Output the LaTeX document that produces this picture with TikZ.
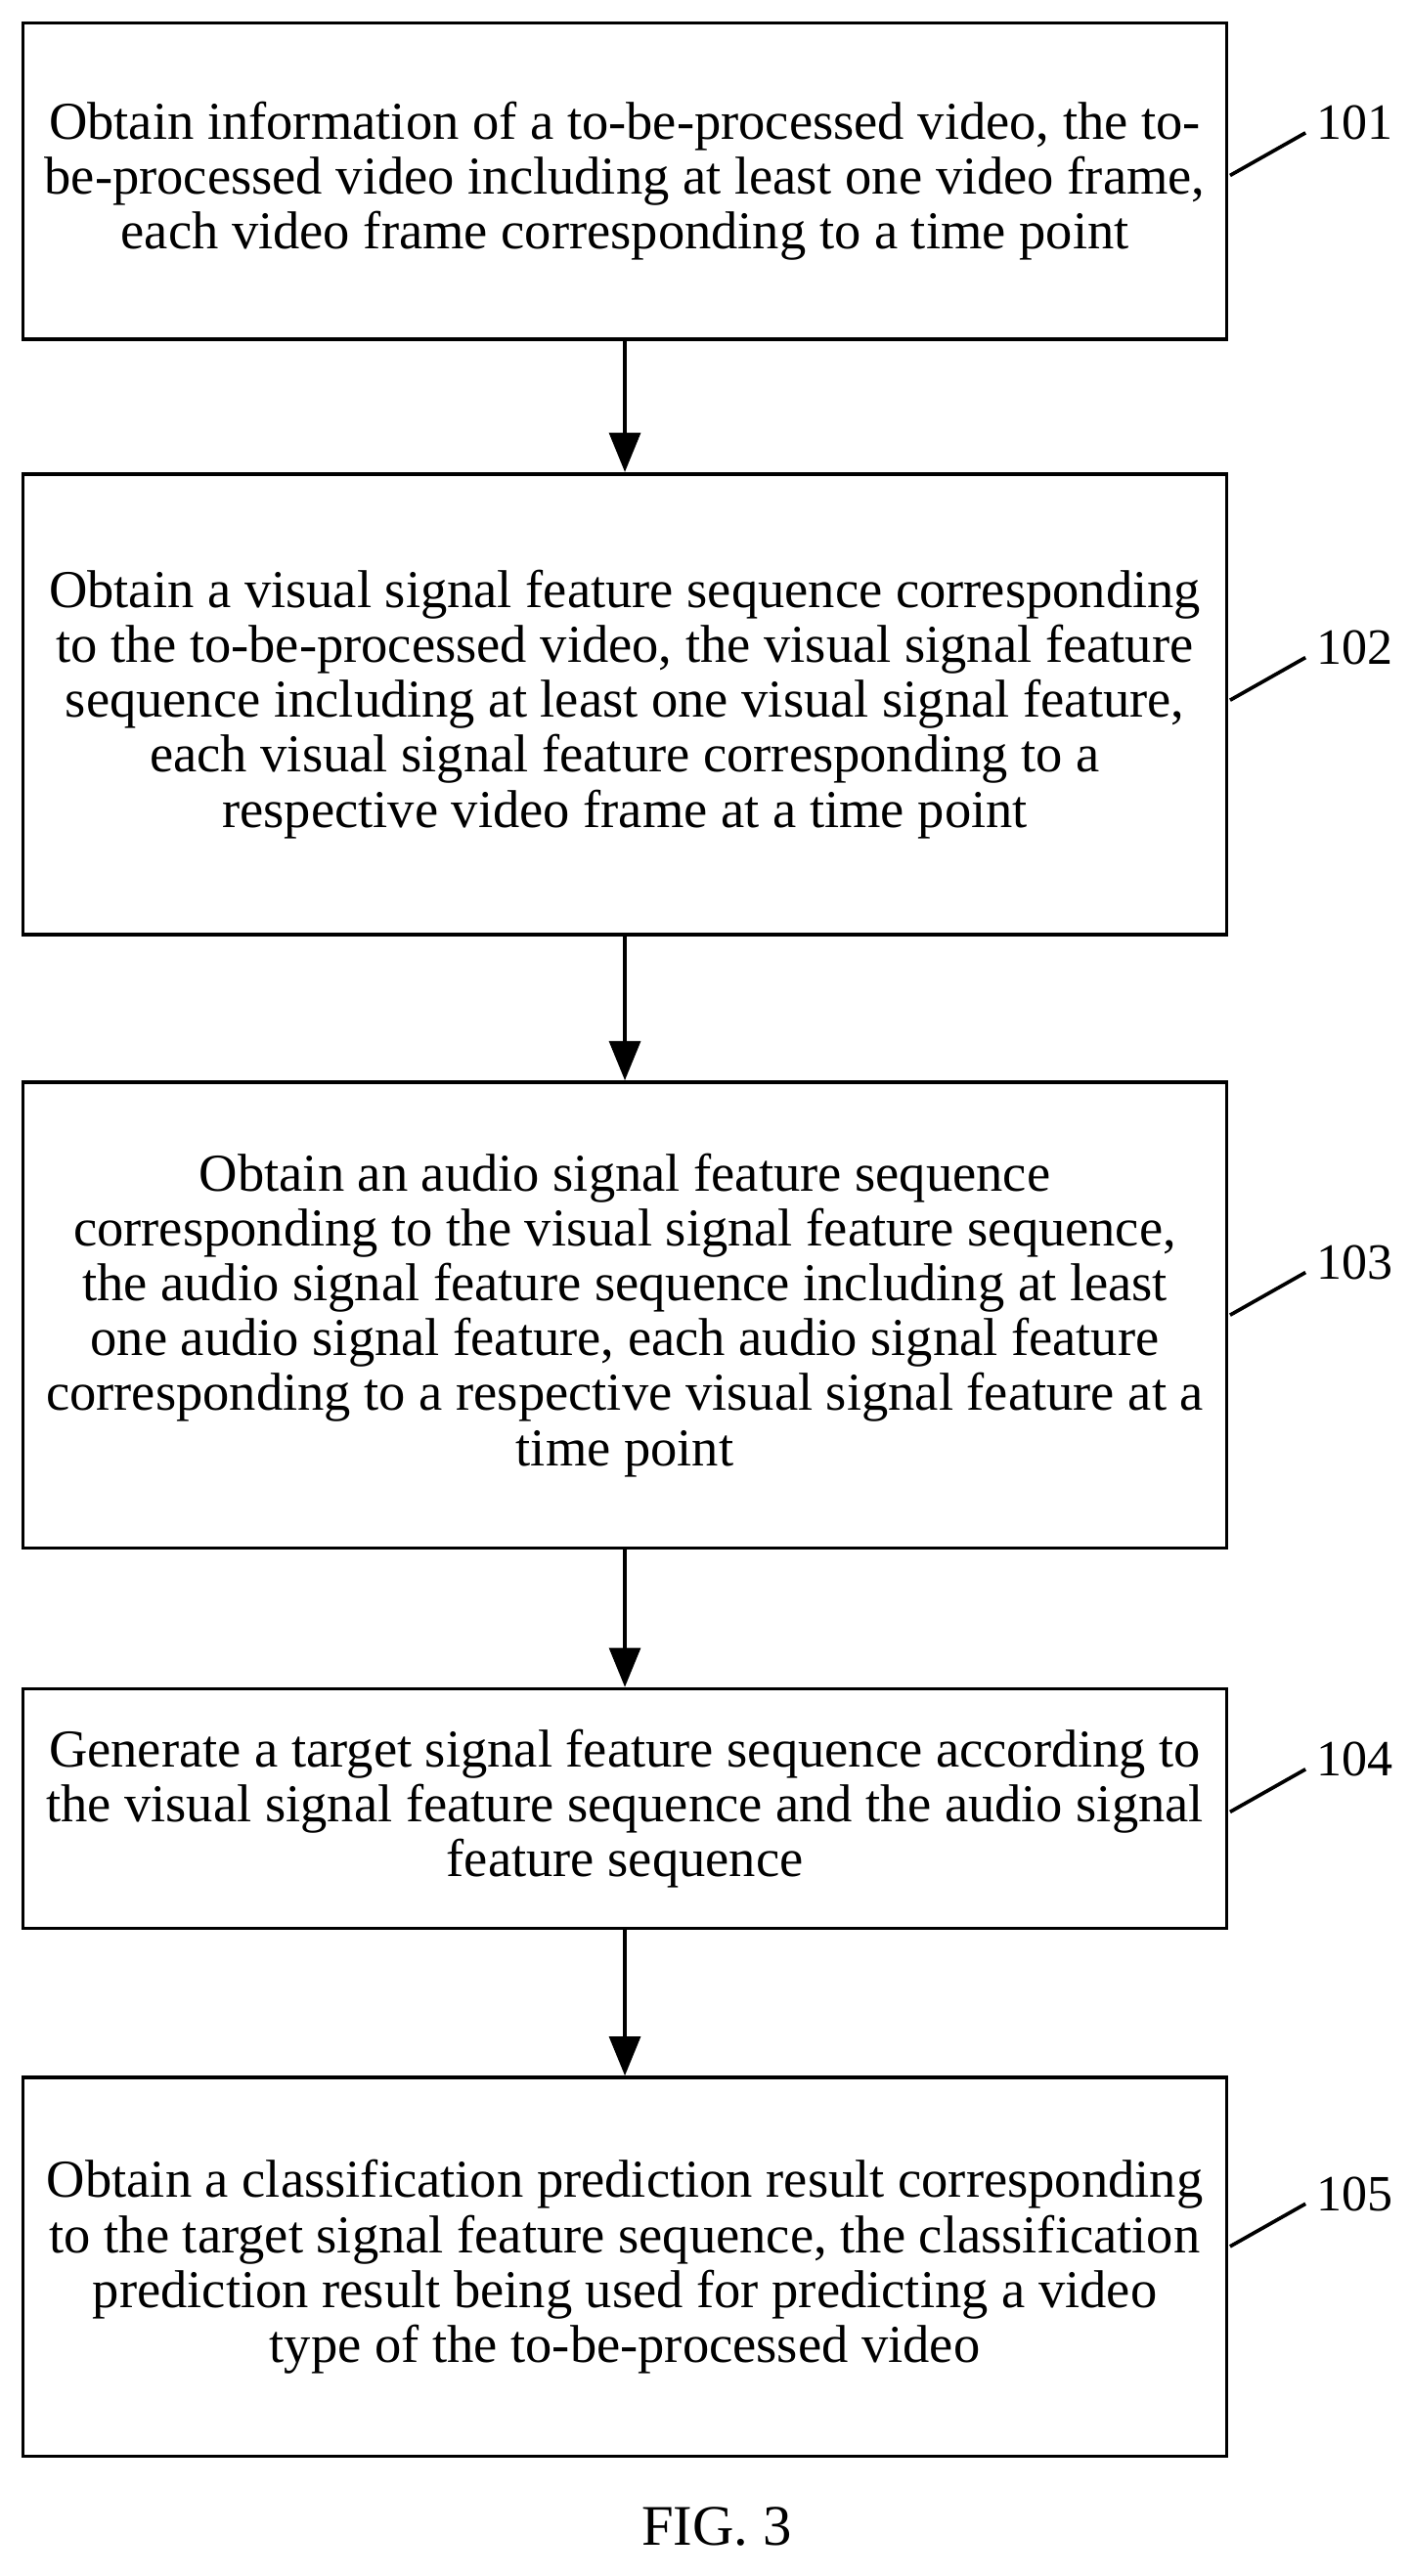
\documentclass[tikz,border=0pt]{standalone}
\usepackage{fontspec}
\setmainfont{Liberation Serif}
\usetikzlibrary{arrows.meta}
\begin{document}
\begin{tikzpicture}[x=1pt,y=-1pt,
 box/.style={draw,line width=2.2pt,minimum width=734pt,align=center,inner sep=0pt,font=\fontsize{32.5}{33.5}\selectfont},
 lab/.style={font=\fontsize{31}{33}\selectfont},
 arr/.style={line width=2.2pt,-{Triangle[length=24pt,width=19pt]}}]
\useasboundingbox (0,0) rectangle (860,1571);
\node[box,minimum height=193pt] (b1) at (381,110.5) {Obtain information of a to-be-processed video, the to-\\be-processed video including at least one video frame,\\each video frame corresponding to a time point};
\node[box,minimum height=281pt] (b2) at (381,429.5) {Obtain a visual signal feature sequence corresponding\\to the to-be-processed video, the visual signal feature\\sequence including at least one visual signal feature,\\each visual signal feature corresponding to a\\respective video frame at a time point};
\node[box,minimum height=284pt] (b3) at (381,802) {Obtain an audio signal feature sequence\\corresponding to the visual signal feature sequence,\\the audio signal feature sequence including at least\\one audio signal feature, each audio signal feature\\corresponding to a respective visual signal feature at a\\time point};
\node[box,minimum height=146pt] (b4) at (381,1103) {Generate a target signal feature sequence according to\\the visual signal feature sequence and the audio signal\\feature sequence};
\node[box,minimum height=231pt] (b5) at (381,1382.5) {Obtain a classification prediction result corresponding\\to the target signal feature sequence, the classification\\prediction result being used for predicting a video\\type of the to-be-processed video};
\foreach \a/\b in {b1/b2,b2/b3,b3/b4,b4/b5} \draw[arr] (\a.south) -- (\b.north);
\foreach \n/\y in {101/75,102/395,103/770,104/1073,105/1338}{
 \node[lab] (l\n) at (826,\y) {\n};
 \coordinate (c\n) at (750,\y+32);
 \coordinate (d\n) at (796,\y+6);
 \draw[line width=2.2pt] (c\n) -- (d\n);
}
\node[font=\fontsize{35}{38}\selectfont] (fig) at (437,1541) {FIG. 3};
\end{tikzpicture}
\end{document}
